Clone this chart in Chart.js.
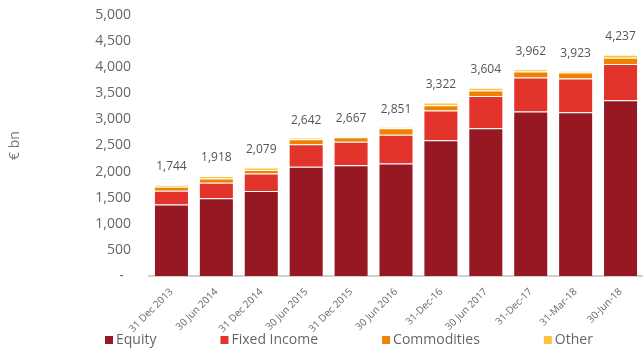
<!DOCTYPE html>
<html>
<head>
<meta charset="utf-8">
<script src="https://cdn.jsdelivr.net/npm/chart.js@4"></script>
<style>
  html, body { margin: 0; padding: 0; background: #fff; }
  #wrap { width: 643px; height: 351px; }
</style>
</head>
<body>
<div id="wrap"><canvas id="aumChart" width="643" height="351"></canvas></div>
<script>
// Chart data (EUR bn)
const periods = ['31 Dec 2013', '30 Jun 2014', '31 Dec 2014', '30 Jun 2015', '31 Dec 2015',
  '30 Jun 2016', '31-Dec-16', '30 Jun 2017', '31-Dec-17', '31-Mar-18', '30-Jun-18'];
const equity = [1370, 1490, 1630, 2092, 2120, 2157, 2600, 2831, 3150, 3138, 3369];
const fixedIncome = [262, 295, 335, 431, 453, 551, 569, 615, 654, 647, 693];
const commodities = [78, 85, 64, 99, 84, 123, 104, 108, 115, 115, 121];
const other = [34, 48, 50, 20, 10, 20, 49, 50, 43, 23, 54];
const totals = [1744, 1918, 2079, 2642, 2667, 2851, 3322, 3604, 3962, 3923, 4237];
const yTicks = [0, 500, 1000, 1500, 2000, 2500, 3000, 3500, 4000, 4500, 5000];

const fontFamily = '"Open Sans", sans-serif';
const edge = 'rgba(255,255,255,0.2)';

// Totals above each stack
const totalLabels = {
  id: 'totalLabels',
  afterDatasetsDraw(chart) {
    const ctx = chart.ctx;
    const meta = chart.getDatasetMeta(chart.data.datasets.length - 1);
    const y = chart.scales.y;
    ctx.save();
    ctx.font = '12px ' + fontFamily;
    ctx.fillStyle = '#555';
    ctx.textAlign = 'center';
    ctx.textBaseline = 'middle';
    totals.forEach((t, i) => {
      ctx.fillText(t.toLocaleString('en-US'), meta.data[i].x, y.getPixelForValue(t) - 18);
    });
    ctx.restore();
  }
};

// Legend along the bottom with fixed spacing
const bottomLegend = {
  id: 'bottomLegend',
  afterDraw(chart) {
    const ctx = chart.ctx;
    ctx.save();
    ctx.font = '14px ' + fontFamily;
    ctx.textBaseline = 'middle';
    let x = 105;
    const y = 340;
    chart.data.datasets.forEach(ds => {
      ctx.fillStyle = ds.backgroundColor;
      ctx.fillRect(x, y - 4, 8, 8);
      ctx.fillStyle = '#666';
      ctx.fillText(ds.label, x + 11, y);
      x += 11 + ctx.measureText(ds.label).width + 64;
    });
    ctx.restore();
  }
};

new Chart(document.getElementById('aumChart'), {
  type: 'bar',
  data: {
    labels: periods,
    datasets: [
      { label: 'Equity', data: equity, backgroundColor: '#961822' },
      { label: 'Fixed Income', data: fixedIncome, backgroundColor: '#e3342b' },
      { label: 'Commodities', data: commodities, backgroundColor: '#ee8205' },
      { label: 'Other', data: other, backgroundColor: '#fdc33f' }
    ].map(d => Object.assign(d, { borderColor: edge, borderWidth: 1 }))
  },
  options: {
    responsive: false,
    animation: false,
    layout: { padding: { top: 15, right: 0, bottom: 0, left: 0 } },
    datasets: { bar: { categoryPercentage: 1, barPercentage: 0.78 } },
    plugins: { legend: { display: false }, tooltip: { enabled: false } },
    scales: {
      x: {
        stacked: true,
        grid: { display: false },
        border: { display: true, color: '#d0d0d0', width: 2 },
        ticks: {
          color: '#666', font: { family: fontFamily, size: 10 },
          minRotation: 45, maxRotation: 45, padding: 2, autoSkip: false
        },
        afterFit(scale) { scale.height = 75; }
      },
      y: {
        stacked: true,
        min: 0, max: 5000,
        grid: { display: false, drawTicks: false },
        border: { display: false },
        afterBuildTicks(scale) { scale.ticks = yTicks.map(v => ({ value: v })); },
        ticks: {
          color: '#666', font: { family: fontFamily, size: 14 }, padding: 18,
          callback: v => v === 0 ? '-  ' : v.toLocaleString('en-US')
        },
        title: {
          display: true, text: '€ bn', color: '#777',
          font: { family: fontFamily, size: 14 }, padding: { top: 7, bottom: 0 }
        },
        afterFit(scale) {
          scale.width = 149;
          scale.paddingTop = 0;
          scale.paddingBottom = 0;
        }
      }
    }
  },
  plugins: [totalLabels, bottomLegend]
});
</script>
</body>
</html>
